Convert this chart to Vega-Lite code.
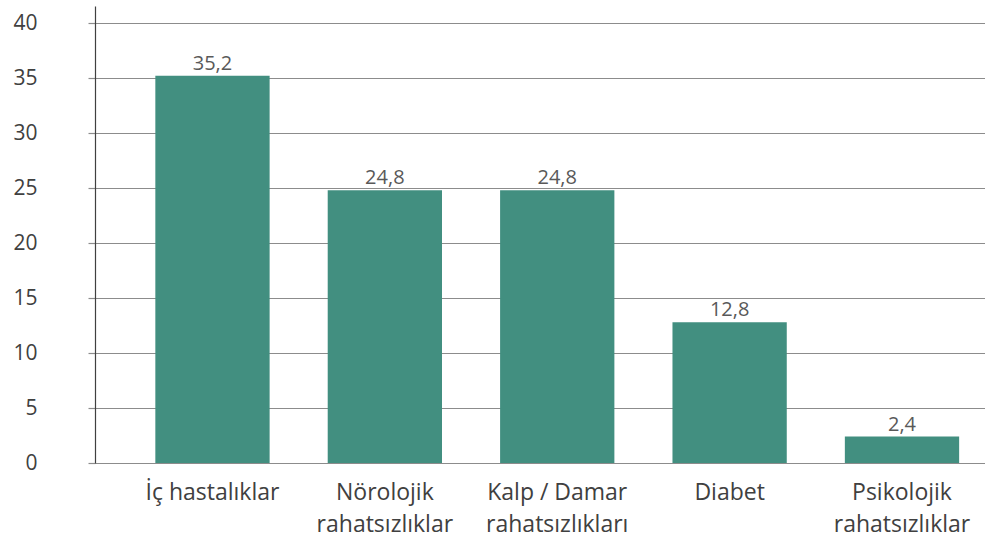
{
  "$schema": "https://vega.github.io/schema/vega-lite/v6.json",
  "width": 890,
  "height": 457,
  "autosize": {"type": "none"},
  "padding": {"left": 95, "top": 6, "right": 0, "bottom": 77},
  "background": "white",
  "config": {"view": {"stroke": null}, "font": "Open Sans"},
  "data": {
    "values": [
      {"kategori": "İç hastalıklar", "deger": 35.2, "etiket": "35,2"},
      {"kategori": "Nörolojik\nrahatsızlıklar", "deger": 24.8, "etiket": "24,8"},
      {"kategori": "Kalp / Damar\nrahatsızlıkları", "deger": 24.8, "etiket": "24,8"},
      {"kategori": "Diabet", "deger": 12.8, "etiket": "12,8"},
      {"kategori": "Psikolojik\nrahatsızlıklar", "deger": 2.4, "etiket": "2,4"}
    ]
  },
  "encoding": {
    "x": {
      "field": "kategori",
      "type": "nominal",
      "sort": null,
      "scale": {"paddingInner": 0.337, "paddingOuter": 0.25, "align": 0.7},
      "axis": {
        "title": null,
        "labelAngle": 0,
        "labelExpr": "split(datum.label, '\\n')",
        "labelFontSize": 23,
        "labelColor": "#404040",
        "labelLineHeight": 32,
        "labelPadding": 18,
        "labelLimit": 300,
        "ticks": false,
        "domainColor": "#8c8c8c",
        "domainWidth": 1.2
      }
    },
    "y": {
      "field": "deger",
      "type": "quantitative",
      "scale": {"domain": [0, 41.55], "nice": false},
      "axis": {
        "title": null,
        "values": [0, 5, 10, 15, 20, 25, 30, 35, 40],
        "grid": true,
        "gridColor": "#8c8c8c",
        "gridWidth": 1.2,
        "tickColor": "#8c8c8c",
        "tickSize": 7,
        "tickWidth": 1.2,
        "domainColor": "#404040",
        "domainWidth": 1.2,
        "labelFontSize": 21,
        "labelColor": "#404040",
        "labelPadding": 51
      }
    }
  },
  "layer": [
    {"mark": {"type": "bar", "color": "#428f80"}},
    {
      "mark": {"type": "text", "baseline": "bottom", "dy": -2, "fontSize": 20, "color": "#595959"},
      "encoding": {"text": {"field": "etiket"}}
    }
  ]
}
